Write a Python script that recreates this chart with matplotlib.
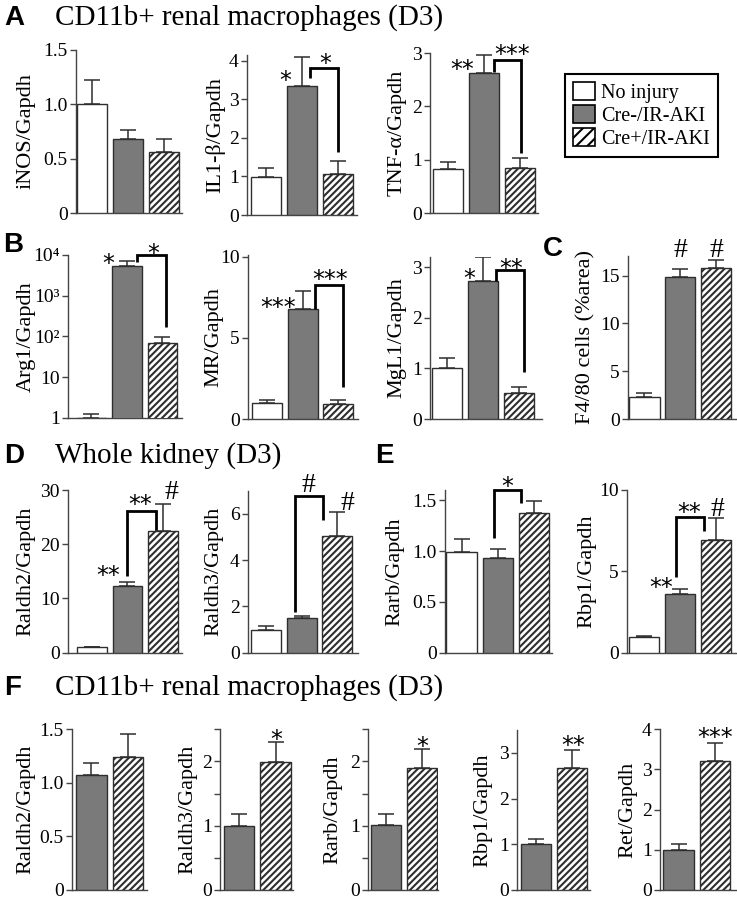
import matplotlib
matplotlib.use('Agg')
import matplotlib.pyplot as plt
from matplotlib.patches import Patch
from matplotlib.transforms import offset_copy

plt.rcParams['font.family'] = ['Liberation Serif', 'DejaVu Serif']
plt.rcParams['hatch.linewidth'] = 1.5

W, H = 737, 899

groups = ['No injury', 'Cre-/IR-AKI', 'Cre+/IR-AKI']

# ---- data ----
# A: CD11b+ renal macrophages
inos_vals = [1.0, 0.68, 0.56]
inos_err = [0.22, 0.08, 0.12]
il1b_vals = [0.98, 3.35, 1.06]
il1b_err = [0.23, 0.74, 0.35]
tnfa_vals = [0.82, 2.63, 0.84]
tnfa_err = [0.14, 0.33, 0.20]
# B
arg1_vals = [1.0, 5400, 68]
arg1_err = [0.23, 1800, 31]
mr_vals = [1.0, 6.8, 0.93]
mr_err = [0.17, 1.1, 0.24]
mgl1_vals = [1.0, 2.73, 0.52]
mgl1_err = [0.2, 0.47, 0.12]
# C
f480_vals = [2.33, 14.9, 15.8]
f480_err = [0.37, 0.8, 0.85]
# D: whole kidney
raldh2_kid_vals = [1.0, 12.3, 22.4]
raldh2_kid_err = [0.08, 0.8, 5.0]
raldh3_kid_vals = [1.0, 1.48, 5.04]
raldh3_kid_err = [0.16, 0.10, 1.04]
# E
rarb_kid_vals = [0.99, 0.93, 1.375]
rarb_kid_err = [0.13, 0.09, 0.115]
rbp1_kid_vals = [0.98, 3.59, 6.93]
rbp1_kid_err = [0.05, 0.31, 1.33]
# F: CD11b+ renal macrophages (Cre-, Cre+)
raldh2_mac_vals = [1.07, 1.24]
raldh2_mac_err = [0.12, 0.22]
raldh3_mac_vals = [1.0, 1.99]
raldh3_mac_err = [0.19, 0.31]
rarb_mac_vals = [1.01, 1.9]
rarb_mac_err = [0.18, 0.29]
rbp1_mac_vals = [1.0, 2.67]
rbp1_mac_err = [0.12, 0.39]
ret_mac_vals = [1.0, 3.22]
ret_mac_err = [0.15, 0.44]

# tick labels
ticks_15 = [0, 0.5, 1.0, 1.5]
labels_15 = ['0', '0.5', '1.0', '1.5']
ticks_log = [1, 10, 100, 1000, 10000]
labels_log = ['1', '10', '10²', '10³', '10⁴']

# ---- styles ----
GREY = '#7a7a7a'
EDGE = '#2e2e2e'
SPINE = '#444444'
face = {0: 'white', 1: GREY, 2: 'white'}
hatch = {0: None, 1: None, 2: '/////'}

fig = plt.figure(figsize=(W / 100, H / 100), dpi=100)


def star(ax, x, y, s):
    tr = offset_copy(ax.transData, fig=fig, y=-0.58 * 17, units='points')
    ax.text(x, y, s, fontfamily='DejaVu Sans', fontsize=17, ha='center',
            va='baseline', transform=tr, clip_on=False)


def hashmark(ax, x, y):
    tr = offset_copy(ax.transData, fig=fig, y=-0.34 * 20, units='points')
    ax.text(x, y, '#', fontsize=20, ha='center', va='baseline',
            transform=tr, clip_on=False)


def bracket(ax, x1, y1, x2, y2, ytop):
    ax.plot([x1, x1, x2, x2], [y1, ytop, ytop, y2], color='black', lw=2.0,
            clip_on=False, solid_joinstyle='miter', solid_capstyle='butt',
            zorder=5)


def panel(box, xlim, ylim, vals, errs, gidx, yticks, ylabels, ylabel, lab_cx,
          log=False, minor=None, stars=(), hashes=(), brk=None):
    L, R, T, B = box
    ax = fig.add_axes([L / W, 1 - B / H, (R - L) / W, (B - T) / H])
    x = list(range(len(vals)))
    for xi, v, g in zip(x, vals, gidx):
        ax.bar(xi, v, width=0.84, color=face[g], edgecolor=EDGE, lw=1.0,
               hatch=hatch[g], zorder=3)
    ax.errorbar(x, vals, yerr=[[0] * len(errs), errs], fmt='none',
                ecolor=EDGE, elinewidth=1.1, capsize=6, capthick=1.1, zorder=2)
    if log:
        ax.set_yscale('log')
        ax.minorticks_off()
    ax.set_xlim(*xlim)
    ax.set_ylim(*ylim)
    ax.set_yticks(yticks)
    ax.set_yticklabels(ylabels)
    if minor is not None:
        ax.set_yticks(minor, minor=True)
        ax.tick_params(axis='y', which='minor', direction='out', length=4,
                       width=1, color=SPINE)
    ax.set_xticks([])
    for s in ['top', 'right']:
        ax.spines[s].set_visible(False)
    for s in ['left', 'bottom']:
        ax.spines[s].set_color(SPINE)
        ax.spines[s].set_linewidth(1.0)
    ax.tick_params(axis='y', direction='out', length=4, width=1, color=SPINE,
                   labelsize=14, pad=2)
    ax.patch.set_alpha(0)
    fig.text(lab_cx / W, 1 - (T + B) / 2 / H, ylabel, rotation=90,
             ha='center', va='center', fontsize=16)
    for (sx, sy, s) in stars:
        star(ax, sx, sy, s)
    for (hx, hy) in hashes:
        hashmark(ax, hx, hy)
    if brk is not None:
        bracket(ax, *brk)
    return ax


G3 = [0, 1, 2]
G2 = [1, 2]
FB = 890  # bottom of row F

# ---- Panel A ----
panel((76, 182, 50, 213), (-0.45, 2.5), (0, 1.5), inos_vals, inos_err, G3,
      ticks_15, labels_15, 'iNOS/Gapdh', 26)
panel((247, 357, 55, 215), (-0.53, 2.53), (0, 4.15), il1b_vals, il1b_err, G3,
      [0, 1, 2, 3, 4], ['0', '1', '2', '3', '4'], 'IL1-β/Gapdh', 215,
      stars=[(0.53, 3.64, '*'), (1.64, 4.08, '*')],
      brk=(1.22, 3.56, 2.0, 1.64, 3.82))
panel((430, 538, 53, 213), (-0.5, 2.5), (0, 3.0), tnfa_vals, tnfa_err, G3,
      [0, 1, 2, 3], ['0', '1', '2', '3'], 'TNF-α/Gapdh', 397,
      stars=[(0.38, 2.8, '**'), (1.78, 3.09, '***')],
      brk=(1.29, 2.65, 2.04, 1.12, 2.86))

# ---- Panel B ----
panel((68, 182, 255, 418), (-0.66, 2.55), (1, 1e4), arg1_vals, arg1_err, G3,
      ticks_log, labels_log, 'Arg1/Gapdh', 26, log=True,
      stars=[(0.46, 8900, '*'), (1.73, 15800, '*')],
      brk=(1.28, 6700, 2.1, 170, 10000))
panel((248, 358, 255, 419), (-0.54, 2.56), (0, 10.1), mr_vals, mr_err, G3,
      [0, 5, 10], ['0', '5', '10'], 'MR/Gapdh', 214,
      stars=[(0.31, 7.22, '***'), (1.78, 9.0, '***')],
      brk=(1.36, 6.8, 2.15, 1.98, 8.27))
panel((430, 542, 257, 419), (-0.49, 2.65), (0, 3.2), mgl1_vals, mgl1_err, G3,
      [0, 1, 2, 3], ['0', '1', '2', '3'], 'MgL1/Gapdh', 397,
      stars=[(0.6, 2.89, '*'), (1.79, 3.09, '**')],
      brk=(1.37, 2.73, 2.15, 0.93, 2.95))

# ---- Panel C ----
panel((628, 737, 256, 419), (-0.46, 2.58), (0, 17.05), f480_vals, f480_err,
      G3, [0, 5, 10, 15], ['0', '5', '10', '15'], 'F4/80 cells (%area)', 586,
      hashes=[(1.0, 17.9), (2.0, 17.9)])

# ---- Panel D ----
panel((68, 182, 490, 652.7), (-0.68, 2.54), (0, 30), raldh2_kid_vals,
      raldh2_kid_err, G3, [0, 10, 20, 30], ['0', '10', '20', '30'],
      'Raldh2/Gapdh', 26,
      stars=[(0.45, 15.3, '**'), (1.35, 28.5, '**')], hashes=[(2.25, 30.0)],
      brk=(0.99, 14.2, 1.8, 22.6, 26.2))
panel((248, 358, 490.7, 652.7), (-0.5, 2.58), (0, 7), raldh3_kid_vals,
      raldh3_kid_err, G3, [0, 2, 4, 6], ['0', '2', '4', '6'],
      'Raldh3/Gapdh', 214,
      hashes=[(1.2, 7.37), (2.29, 6.58)],
      brk=(0.81, 1.77, 1.6, 5.72, 6.75))

# ---- Panel E ----
panel((445, 552, 490, 652.7), (-0.46, 2.5), (0, 1.6), rarb_kid_vals,
      rarb_kid_err, G3, ticks_15, labels_15, 'Rarb/Gapdh', 395,
      stars=[(1.26, 1.70, '*')],
      brk=(0.9, 1.13, 1.65, 1.47, 1.6))
panel((627, 737, 490, 652.7), (-0.47, 2.58), (0, 10), rbp1_kid_vals,
      rbp1_kid_err, G3, [0, 5, 10], ['0', '5', '10'], 'Rbp1/Gapdh', 587,
      stars=[(0.49, 4.36, '**'), (1.26, 8.97, '**')], hashes=[(2.03, 8.97)],
      brk=(0.88, 4.67, 1.67, 7.5, 8.32))

# ---- Panel F ----
panel((72, 147, 729.3, FB), (-0.53, 1.52), (0, 1.5), raldh2_mac_vals,
      raldh2_mac_err, G2, ticks_15, labels_15, 'Raldh2/Gapdh', 26)
panel((220, 293, 729.3, FB), (-0.52, 1.47), (0, 2.5), raldh3_mac_vals,
      raldh3_mac_err, G2, [0, 1, 2], ['0', '1', '2'], 'Raldh3/Gapdh', 188,
      minor=[0.5, 1.5, 2.5], stars=[(1.0, 2.43, '*')])
panel((368, 438, 729.3, FB), (-0.5, 1.45), (0, 2.5), rarb_mac_vals,
      rarb_mac_err, G2, [0, 1, 2], ['0', '1', '2'], 'Rarb/Gapdh', 333,
      minor=[0.5, 1.5, 2.5], stars=[(1.0, 2.33, '*')])
panel((517, 590, 730, FB), (-0.54, 1.5), (0, 3.5), rbp1_mac_vals,
      rbp1_mac_err, G2, [0, 1, 2, 3], ['0', '1', '2', '3'], 'Rbp1/Gapdh', 483,
      stars=[(1.03, 3.29, '**')])
panel((660, 737, 729.3, FB), (-0.51, 1.6), (0, 4), ret_mac_vals,
      ret_mac_err, G2, [0, 1, 2, 3, 4], ['0', '1', '2', '3', '4'],
      'Ret/Gapdh', 628, stars=[(1.0, 3.94, '***')])


# ---- panel letters and titles ----
def letter(x, y, s):
    fig.text(x / W, 1 - y / H, s, fontfamily='Liberation Sans',
             fontweight='bold', fontsize=20, va='baseline', ha='left')


def title(x, y, s):
    fig.text(x / W, 1 - y / H, s, fontsize=21, va='baseline', ha='left')


letter(4, 25, 'A')
title(55, 25, 'CD11b+ renal macrophages (D3)')
letter(3, 252, 'B')
letter(543, 256, 'C')
letter(4, 463, 'D')
title(55, 463, 'Whole kidney (D3)')
letter(375, 463, 'E')
letter(4, 695, 'F')
title(55, 695, 'CD11b+ renal macrophages (D3)')

# ---- legend ----
handles = [Patch(facecolor='white', edgecolor='black', lw=1.2),
           Patch(facecolor=GREY, edgecolor='black', lw=1.2),
           Patch(facecolor='white', edgecolor='black', lw=1.2, hatch='///')]
leg = fig.legend(handles, groups, loc='upper left',
                 bbox_to_anchor=(565 / W, 1 - 74 / H),
                 bbox_transform=fig.transFigure, frameon=True, fancybox=False,
                 edgecolor='black', framealpha=1, borderpad=0.4,
                 handlelength=1.1, handleheight=1.0, handletextpad=0.3,
                 labelspacing=0.1, borderaxespad=0, fontsize=14.5)
leg.get_frame().set_linewidth(1.5)

fig.savefig('out.png', dpi=100)
